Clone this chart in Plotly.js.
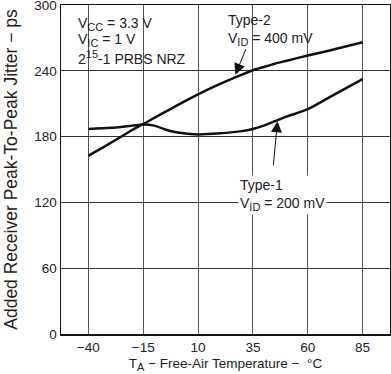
<!DOCTYPE html>
<html>
<head>
<meta charset="utf-8">
<script src="https://cdn.plot.ly/plotly-3.0.1.min.js"></script>
<style>html,body{margin:0;padding:0;background:#fff;}#chart{width:391px;height:374px;}</style>
</head>
<body>
<div id="chart"></div>
<script>
// Data
const temperature = [-40, -30, -20, -15, -10, -5, 0, 10, 20, 30, 35, 40, 45, 50, 60, 70, 85];
const type1Jitter = [187, 188, 190, 191, 190, 186.5, 184, 182, 183, 185, 187, 190, 194, 198, 205, 216, 232.5];
const type2Jitter = [162.5, 174, 186, 191.5, 197, 202.5, 208, 218.5, 228, 236.5, 240.5, 243.5, 246.5, 249, 254, 258.5, 266];
const xTicks = [-40, -15, 10, 35, 60, 85];
const yTicks = [0, 60, 120, 180, 240, 300];

const FONT = 'Liberation Sans, Arial, Helvetica, sans-serif';
const L = 61, T = 5, W = 329, H = 329;
const px = x => (x - L) / W;
const py = y => 1 - (y - T) / H;
const sub = s => '<sub><span style="font-size:11px">' + s + '</span></sub>';

const traces = [
  {x: temperature, y: type1Jitter, mode: 'lines', line: {color: '#111', width: 2.5, shape: 'spline', smoothing: 0.6}, name: 'Type-1', hoverinfo: 'skip'},
  {x: temperature, y: type2Jitter, mode: 'lines', line: {color: '#111', width: 2.5, shape: 'spline', smoothing: 0.6}, name: 'Type-2', hoverinfo: 'skip'}
];

const tf = {family: FONT, size: 13.5, color: '#222'};
const af = {family: FONT, size: 14, color: '#222'};
const layout = {
  width: 391, height: 374,
  margin: {l: L, r: 391 - L - W, t: T, b: 374 - T - H},
  paper_bgcolor: '#fff', plot_bgcolor: '#fff',
  showlegend: false,
  font: tf,
  xaxis: {
    range: [-52.5, 97.5], tickvals: xTicks, ticktext: xTicks.map(v => v < 0 ? '\u2212' + Math.abs(v) : String(v)),
    showgrid: true, gridcolor: '#555', gridwidth: 1, zeroline: false,
    showline: true, linecolor: '#111', linewidth: 1.5, mirror: true, ticks: '',
    tickfont: tf, ticklabeloverflow: 'allow',
    title: {text: 'T' + sub('A') + ' \u2212 Free-Air Temperature \u2212  \u00b0C', font: tf, standoff: 5}
  },
  yaxis: {
    range: [0, 300], tickvals: yTicks, ticktext: yTicks.map(String),
    showgrid: true, gridcolor: '#333', gridwidth: 1, zeroline: false,
    showline: true, linecolor: '#111', linewidth: 1.5, mirror: true, ticks: '',
    tickfont: tf, ticklabeloverflow: 'allow',
    title: {text: 'Added Receiver Peak-To-Peak Jitter \u2212 ps', font: {family: FONT, size: 17.5, color: '#222'}, standoff: 12}
  },
  annotations: [
    {xref: 'paper', yref: 'paper', x: px(76), y: py(24), xanchor: 'left', yanchor: 'middle', showarrow: false, text: 'V' + sub('CC') + ' = 3.3 V', font: af},
    {xref: 'paper', yref: 'paper', x: px(76), y: py(40), xanchor: 'left', yanchor: 'middle', showarrow: false, text: 'V' + sub('IC') + ' = 1 V', font: af},
    {xref: 'paper', yref: 'paper', x: px(76), y: py(57), xanchor: 'left', yanchor: 'middle', showarrow: false, text: '2<sup><span style="font-size:11px">15</span></sup>-1 PRBS NRZ', font: af},
    {xref: 'paper', yref: 'paper', x: px(226), y: py(10), xanchor: 'left', yanchor: 'top', showarrow: false, align: 'left', text: 'Type-2<br>V' + sub('ID') + ' = 400 mV', font: af},
    {xref: 'paper', yref: 'paper', x: px(238), y: py(175), xanchor: 'left', yanchor: 'top', showarrow: false, align: 'left', bgcolor: '#fff', borderpad: 1, text: 'Type-1<br>V' + sub('ID') + ' = 200 mV', font: af},
    {xref: 'x', yref: 'y', x: 27, y: 236.5, ax: 14, ay: -34, axref: 'pixel', ayref: 'pixel', text: ' ', showarrow: true, arrowhead: 2, arrowsize: 2.2, arrowwidth: 1, arrowcolor: '#111', standoff: 0},
    {xref: 'x', yref: 'y', x: 46.2, y: 194, ax: -5, ay: 53, axref: 'pixel', ayref: 'pixel', text: ' ', showarrow: true, arrowhead: 2, arrowsize: 2.2, arrowwidth: 1, arrowcolor: '#111', standoff: 0}
  ]
};

Plotly.newPlot('chart', traces, layout, {staticPlot: true, displayModeBar: false});
</script>
</body>
</html>
